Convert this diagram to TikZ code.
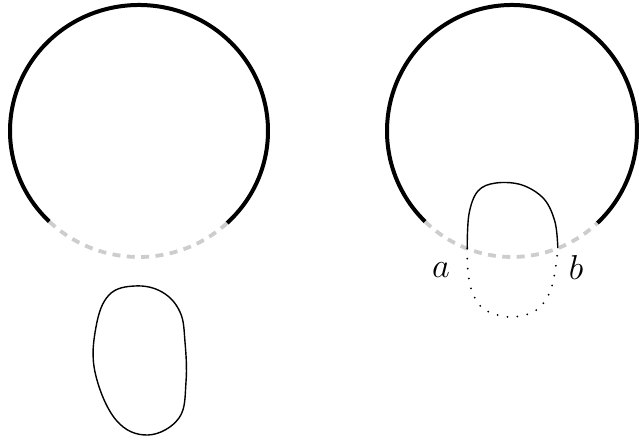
\documentclass[tikz,border=0pt]{standalone}
\usepackage{tikz}
\usetikzlibrary{positioning}
\definecolor{gris}{HTML}{CDCDCD}

\begin{document}
\begin{tikzpicture}[x=0.5pt,y=0.5pt,
  arconegro/.style={line width=2pt,black},
  arcogris/.style={line width=1.9pt,gris,dash pattern=on 4pt off 3.2pt},
  fino/.style={line width=0.7pt,black},
  punteado/.style={line width=1pt,black,line cap=round,dash pattern=on 0pt off 5pt},
  etiqueta/.style={font=\fontsize{16}{18}\selectfont,inner sep=0pt}]
\useasboundingbox (0,0) rectangle (639,442);
\coordinate (c1) at (139,311);
\coordinate (c2) at (512,311);
% left circle and the separate loop
\draw[arconegro] (c1) ++(-47:129 and 126) arc[start angle=-47,end angle=226,x radius=129,y radius=126];
\draw[arcogris] (c1) ++(226:129 and 126) arc[start angle=226,end angle=313,x radius=129,y radius=126];
\draw[fino] plot[smooth cycle,tension=0.65] coordinates {(135,156) (109,147) (96,115) (95,70) (116,22) (148,7) (179,24) (186,60) (185,100) (180,130) (162,150)};
% right circle, loop glued in between a and b
\draw[arconegro] (c2) ++(-47:125 and 126) arc[start angle=-47,end angle=226,x radius=125,y radius=126];
\draw[arcogris] (c2) ++(226:125 and 126) arc[start angle=226,end angle=313,x radius=125,y radius=126];
\path (c2) ++(249:125 and 126) coordinate (a);
\path (c2) ++(291.5:125 and 126) coordinate (b);
\draw[fino] plot[smooth,tension=0.6] coordinates {(a) (469,228) (478,251) (496,259) (522,257) (544,243) (555,220) (b)};
\draw[punteado] plot[smooth,tension=0.6] coordinates {(a) (468,170) (473,148) (485,132) (510,125) (535,131) (549,148) (555,170) (b)};
\node[etiqueta] (la) at (441,172) {$a$};
\node[etiqueta] (lb) at (576,174) {$b$};
\end{tikzpicture}
\end{document}
